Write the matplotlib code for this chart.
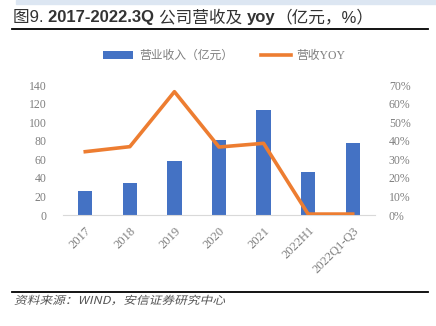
import matplotlib.pyplot as plt
import matplotlib.patches as patches
from matplotlib.font_manager import FontProperties
from matplotlib.textpath import TextPath
from matplotlib.transforms import Affine2D
import numpy as np

plt.rcParams['font.family'] = ['Liberation Serif', 'Noto Sans CJK SC']

categories = ["2017", "2018", "2019", "2020", "2021", "2022H1", "2022Q1-Q3"]
revenue = [26, 35, 58.5, 80.7, 113, 46.6, 77.8]   # 亿元
yoy = [34.1, 36.8, 66.4, 36.6, 38.6, 0.5, 0.5]    # %

blue = '#4472C4'
orange = '#ED7D31'
grey = '#7f7f7f'

W, H = 436, 326
fig = plt.figure(figsize=(W / 100, H / 100), dpi=100)

# header band
fig.patches.append(patches.Rectangle((16 / W, 1 - 4 / H), 420 / W, 4 / H,
                                     transform=fig.transFigure, color='#dce6f2', zorder=0))

# title, mixed weights written piece by piece
title_parts = [("图9. ", 'normal'), ("2017-2022.3Q ", 'bold'), ("公司营收及 ", 'normal'),
               ("yoy", 'bold'), ("（亿元，%）", 'normal')]
renderer = fig.canvas.get_renderer()
xpos = 13
for txt, wt in title_parts:
    t = fig.text(xpos / W, 1 - 22 / H, txt, fontsize=12, fontweight=wt, color='#333333',
                 family=['Liberation Sans', 'Noto Sans CJK SC'], va='baseline')
    xpos += t.get_window_extent(renderer).width

fig.add_artist(plt.Line2D([12 / W, 428 / W], [1 - 29 / H, 1 - 29 / H], color='black', lw=1.3))
fig.add_artist(plt.Line2D([12 / W, 428 / W], [1 - 292 / H, 1 - 292 / H], color='black', lw=1.3))

# slanted source note
src_font = FontProperties(family='Noto Sans CJK SC')
src_path = TextPath((0, 0), "资料来源：WIND，安信证券研究中心", size=11, prop=src_font)
ext = src_path.get_extents()
sx = 210 / ext.width
src_tr = Affine2D().scale(sx, 1.0).skew_deg(14, 0).translate(14, 22)
fig.add_artist(patches.PathPatch(src_tr.transform_path(src_path), transform=None,
                                 facecolor='#555555', edgecolor='none', lw=0))

ax = fig.add_axes([63 / W, 1 - 215 / H, 312 / W, 130 / H])
x = np.arange(len(categories))
bars = ax.bar(x, revenue, width=0.32, color=blue, zorder=2)
ax.set_ylim(0, 140)
ax.set_xlim(-0.5, len(categories) - 0.5)
ax.set_yticks(range(0, 141, 20))
ax.set_xticks(x)
ax.set_xticklabels(categories, rotation=45, ha='right', rotation_mode='anchor')
for s in ['top', 'right', 'left']:
    ax.spines[s].set_visible(False)
ax.spines['bottom'].set_color('#d9d9d9')
ax.tick_params(length=0, labelsize=8.5, labelcolor=grey)
ax.tick_params(axis='y', pad=12)
ax.tick_params(axis='x', pad=7, labelsize=9)

ax2 = ax.twinx()
line, = ax2.plot(x, yoy, color=orange, lw=2.6, zorder=3)
ax2.set_ylim(0, 70)
ax2.set_yticks(range(0, 71, 10))
ax2.set_yticklabels([f"{v}%" for v in range(0, 71, 10)])
for s in ax2.spines.values():
    s.set_visible(False)
ax2.tick_params(length=0, labelsize=8.5, labelcolor=grey, pad=10)

leg = fig.legend([bars, line], ['营业收入（亿元）', '营收YOY'], loc='center',
                 bbox_to_anchor=(0.515, 1 - 56 / H), ncol=2, frameon=False,
                 fontsize=8.5, handlelength=2.5, columnspacing=2.4, handletextpad=0.5)
for t in leg.get_texts():
    t.set_color(grey)

fig.savefig('out.png', dpi=100)
